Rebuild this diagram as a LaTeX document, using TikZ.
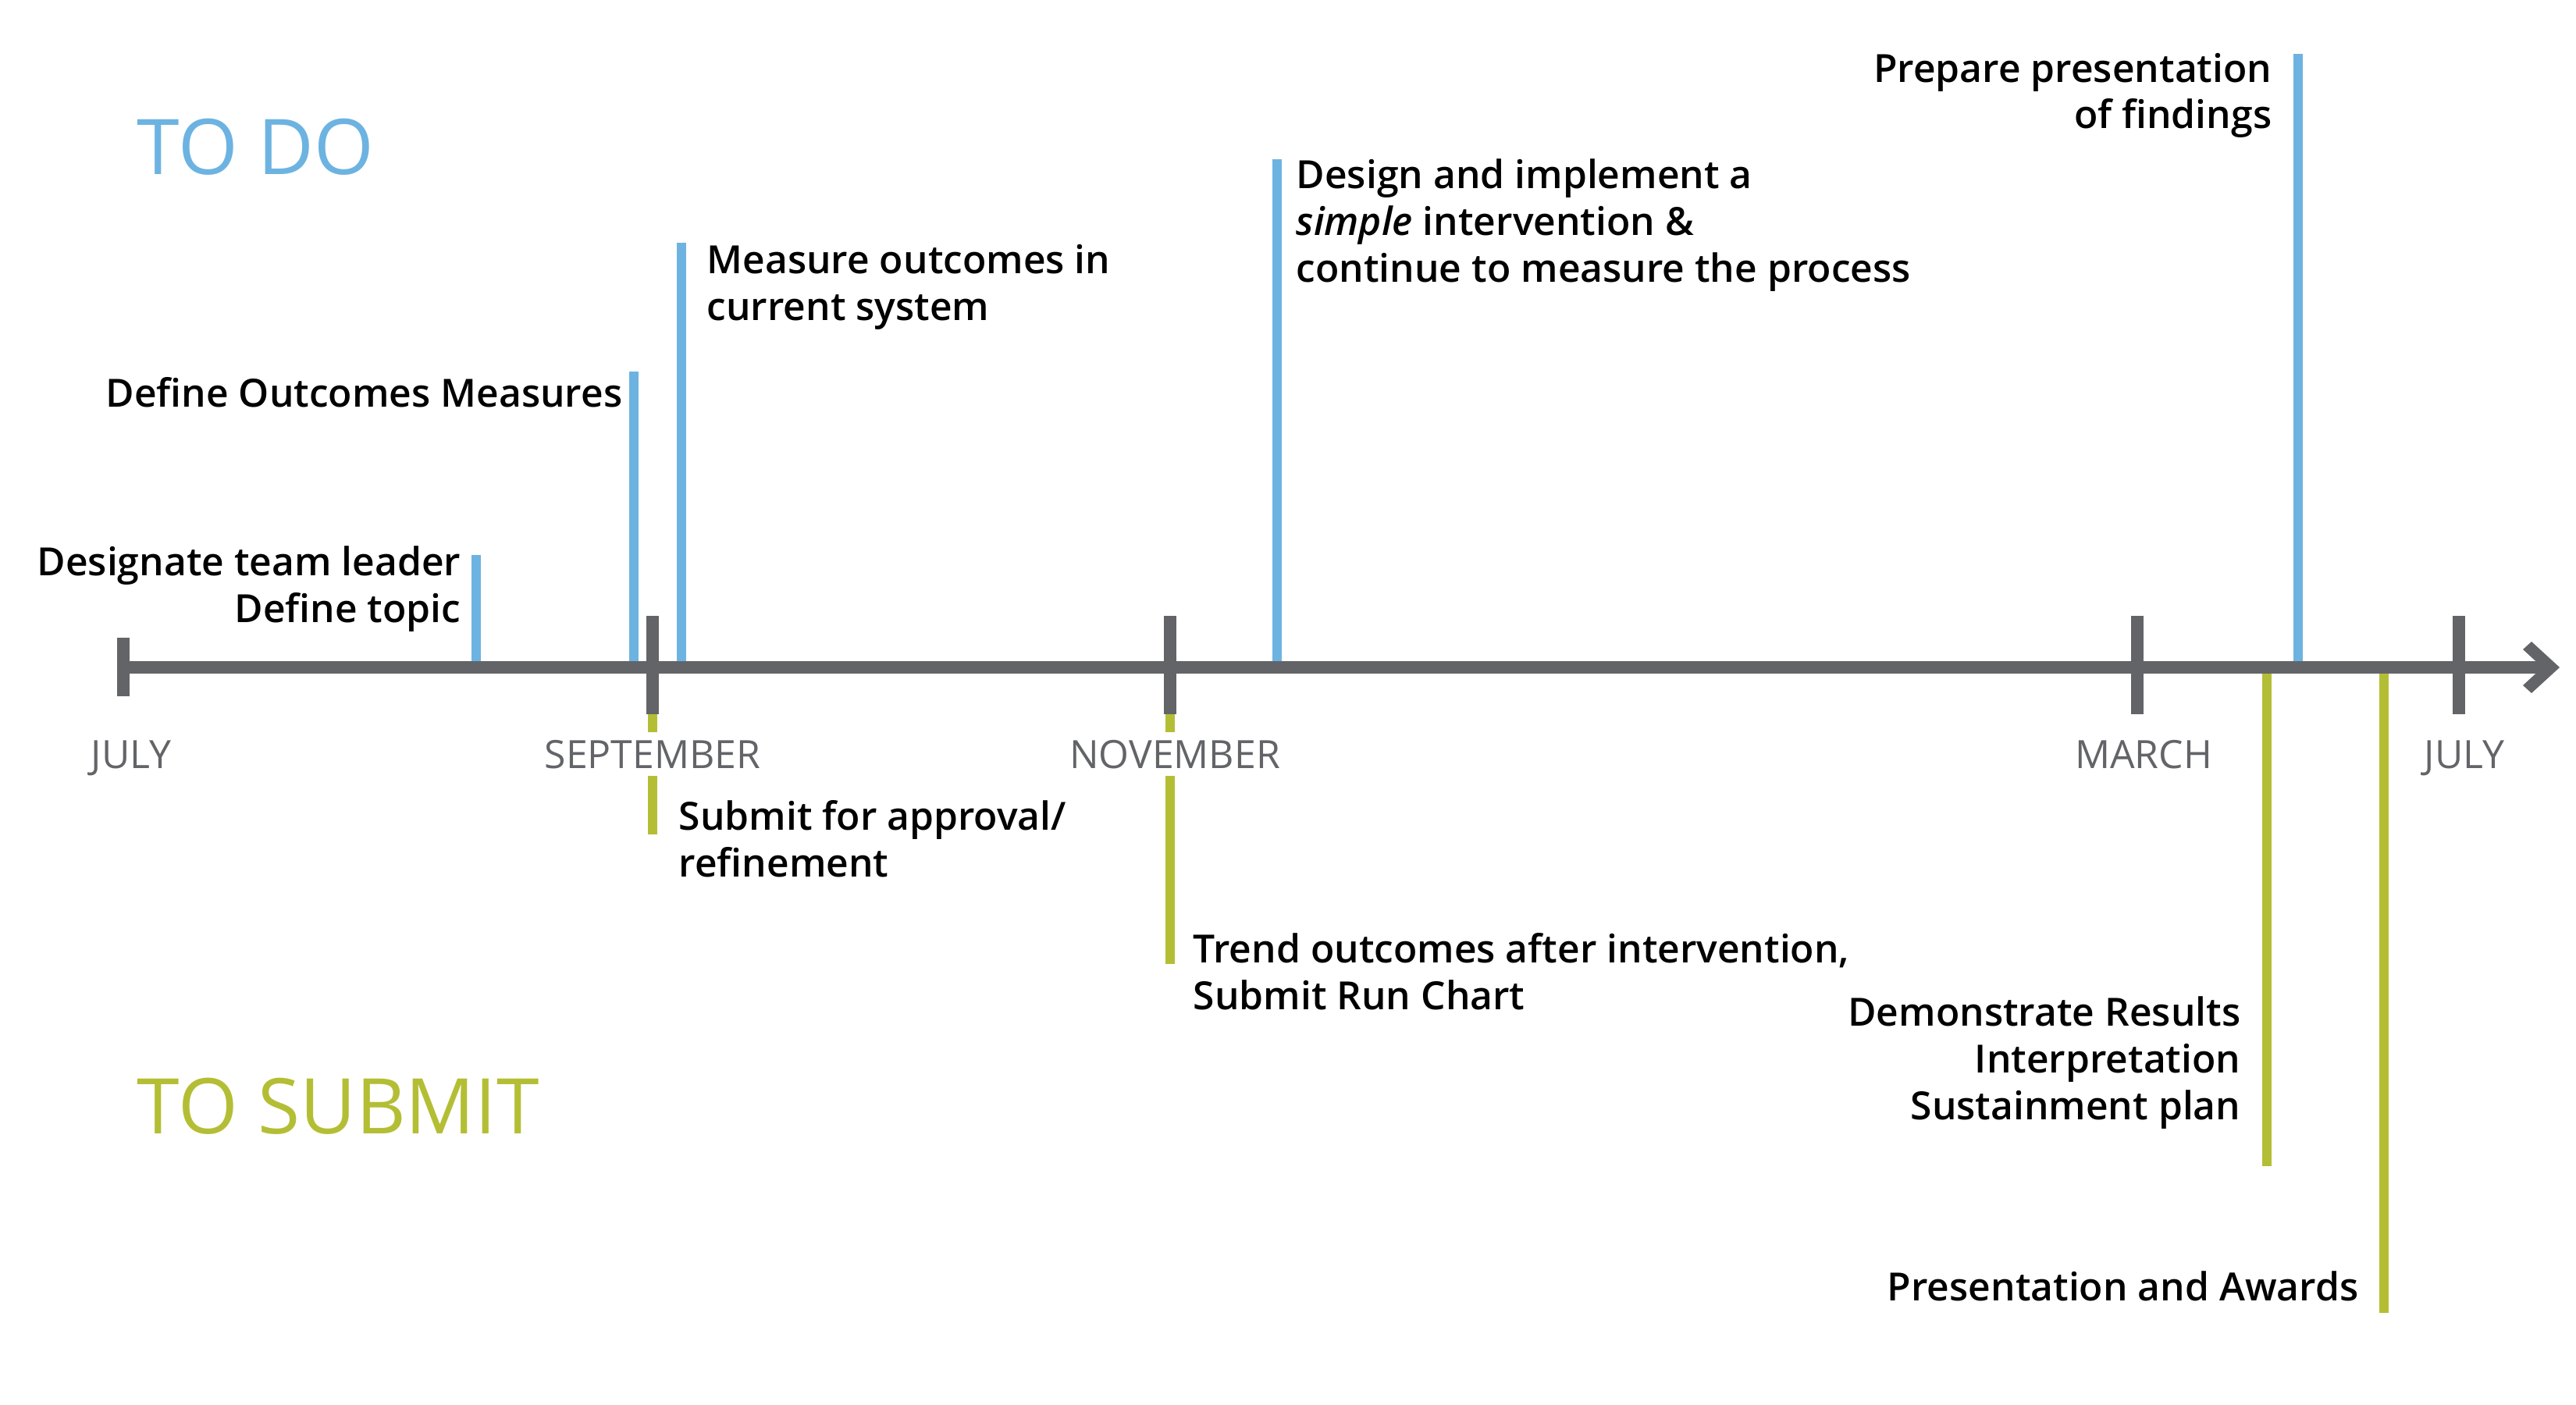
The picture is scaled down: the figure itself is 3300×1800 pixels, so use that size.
\documentclass[tikz,border=0pt]{standalone}
\usepackage{fontspec}
\setmainfont{Open Sans}
\newfontfamily\semib{Open Sans Semibold}
\definecolor{tdblue}{HTML}{6DB3E1}
\definecolor{tsgreen}{HTML}{B4BE35}
\definecolor{axgray}{HTML}{636468}
\begin{document}
\begin{tikzpicture}[x=0.01cm,y=-0.01cm,
  axisline/.style={draw=axgray,line width=0.16cm},
  tickmark/.style={draw=axgray,line width=0.16cm},
  todoline/.style={draw=tdblue,line width=0.12cm},
  submitline/.style={draw=tsgreen,line width=0.12cm},
  lbl/.style={font=\semib\fontsize{14.15}{16.95}\selectfont,inner sep=0pt},
  month/.style={font=\fontsize{14.2}{17}\selectfont,text=axgray,fill=white,inner xsep=3pt,inner ysep=0.1cm,text height=0.36cm,text depth=0cm},
  heading/.style={font=\fontsize{28}{32}\selectfont,inner sep=0pt}]
\useasboundingbox (0,0) rectangle (3300,1800);

% axis coordinates
\coordinate (axL) at (158,855);
\coordinate (axR) at (3257,855);

% TO DO markers
\coordinate (b1) at (610,855);  \coordinate (b1t) at (610,711);
\coordinate (b2) at (812,855);  \coordinate (b2t) at (812,476);
\coordinate (b3) at (873,855);  \coordinate (b3t) at (873,311);
\coordinate (b4) at (1636,855); \coordinate (b4t) at (1636,204);
\coordinate (b5) at (2944,855); \coordinate (b5t) at (2944,69);
\draw[todoline] (b1) -- (b1t);
\draw[todoline] (b2) -- (b2t);
\draw[todoline] (b3) -- (b3t);
\draw[todoline] (b4) -- (b4t);
\draw[todoline] (b5) -- (b5t);

% TO SUBMIT markers
\coordinate (g1) at (836,855);  \coordinate (g1b) at (836,1069);
\coordinate (g2) at (1499,855); \coordinate (g2b) at (1499,1235);
\coordinate (g3) at (2904,855); \coordinate (g3b) at (2904,1494);
\coordinate (g4) at (3054,855); \coordinate (g4b) at (3054,1682);
\draw[submitline] (g1) -- (g1b);
\draw[submitline] (g2) -- (g2b);
\draw[submitline] (g3) -- (g3b);
\draw[submitline] (g4) -- (g4b);

% axis
\draw[axisline] (axL) -- (axR);
\fill[axgray] (3279,855) -- (3243,822) -- (3232,832) -- (3257,855) -- (3232,878) -- (3243,888) -- cycle;

% ticks
\coordinate (k0a) at (158,817);  \coordinate (k0b) at (158,892);
\coordinate (k1a) at (836,789);  \coordinate (k1b) at (836,915);
\coordinate (k2a) at (1499,789); \coordinate (k2b) at (1499,915);
\coordinate (k3a) at (2738,789); \coordinate (k3b) at (2738,915);
\coordinate (k4a) at (3150,789); \coordinate (k4b) at (3150,915);
\draw[tickmark] (k0a) -- (k0b);
\draw[tickmark] (k1a) -- (k1b);
\draw[tickmark] (k2a) -- (k2b);
\draw[tickmark] (k3a) -- (k3b);
\draw[tickmark] (k4a) -- (k4b);

% month labels
\node[month,anchor=base] (mjul) at (168,984) {JULY};
\node[month,anchor=base] (msep) at (836,984) {SEPTEMBER};
\node[month,anchor=base] (mnov) at (1505,984) {NOVEMBER};
\node[month,anchor=base] (mmar) at (2746,984) {MARCH};
\node[month,anchor=base] (mjul2) at (3157,984) {JULY};

% headings
\node[heading,text=tdblue,anchor=base west] (todo) at (175,223) {TO DO};
\node[heading,text=tsgreen,anchor=base west] (tosubmit) at (175,1452) {TO SUBMIT};

% to do texts (base anchor = baseline of last line)
\node[lbl,anchor=base east,align=right] (t1) at (591,797) {Designate team leader\\Define topic};
\node[lbl,anchor=base east,align=right] (t2) at (798,521) {Define Outcomes Measures};
\node[lbl,anchor=base west,align=left] (t3) at (905,410) {Measure outcomes in\\current system};
\node[lbl,anchor=base west,align=left] (t4) at (1660,361) {Design and implement a\\\textit{simple} intervention \&\\continue to measure the process};
\node[lbl,anchor=base east,align=right] (t5) at (2911,165) {Prepare presentation\\of findings};

% to submit texts
\node[lbl,anchor=base west,align=left] (s1) at (869,1123) {Submit for approval/\\refinement};
\node[lbl,anchor=base west,align=left] (s2) at (1528,1293) {Trend outcomes after intervention,\\Submit Run Chart};
\node[lbl,anchor=base east,align=right] (s3) at (2871,1434) {Demonstrate Results\\Interpretation\\Sustainment plan};
\node[lbl,anchor=base east,align=right] (s4) at (3022,1666) {Presentation and Awards};
\end{tikzpicture}
\end{document}
